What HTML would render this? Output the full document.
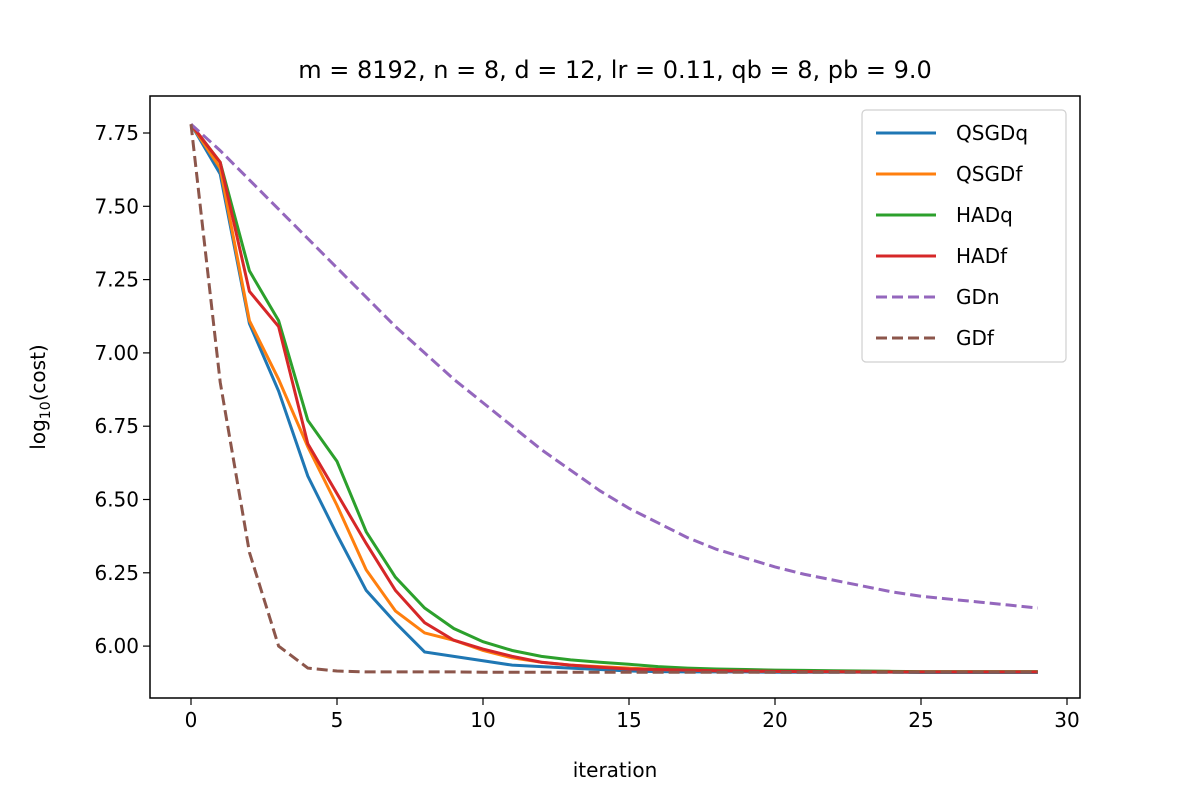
<!DOCTYPE html>
<html><head><meta charset="utf-8"><style>body{margin:0;background:#fff}svg{font-family:"DejaVu Sans","Liberation Sans",sans-serif}</style></head>
<body>
<svg id="c" width="1200" height="800">
<rect x="150" y="96" width="930" height="602" fill="none" stroke="#000" stroke-width="1.5"/>
<text x="615" y="78" font-size="24" text-anchor="middle">m = 8192, n = 8, d = 12, lr = 0.11, qb = 8, pb = 9.0</text>
<text x="615" y="777" font-size="20" text-anchor="middle">iteration</text>
<text transform="translate(45,397) rotate(-90)" font-size="20" text-anchor="middle">log<tspan font-size="14" dy="5">10</tspan><tspan dy="-5">(cost)</tspan></text>
<g id="ticks"></g><g id="series"></g><g id="legend"></g>
</svg>
<script>
const xTicks=[0,5,10,15,20,25,30];
const yTicks=[6.00,6.25,6.50,6.75,7.00,7.25,7.50,7.75];
const names=["QSGDq","QSGDf","HADq","HADf","GDn","GDf"];
const colors=["#1f77b4","#ff7f0e","#2ca02c","#d62728","#9467bd","#8c564b"];
const dashed=[false,false,false,false,true,true];
const qsgdq=[7.78,7.61,7.10,6.87,6.58,6.38,6.19,6.08,5.98,5.965,5.95,5.935,5.93,5.925,5.92,5.915,5.913,5.912,5.912,5.912,5.911,5.911,5.911,5.911,5.911,5.91,5.91,5.91,5.91,5.91];
const qsgdf=[7.78,7.63,7.11,6.91,6.68,6.48,6.26,6.12,6.045,6.02,5.985,5.96,5.945,5.935,5.93,5.925,5.92,5.918,5.916,5.915,5.914,5.913,5.913,5.912,5.912,5.912,5.912,5.912,5.912,5.912];
const hadq=[7.78,7.65,7.28,7.11,6.77,6.63,6.39,6.235,6.13,6.06,6.015,5.985,5.965,5.953,5.945,5.938,5.93,5.925,5.922,5.92,5.918,5.917,5.916,5.915,5.914,5.913,5.913,5.913,5.913,5.913];
const hadf=[7.78,7.65,7.21,7.09,6.69,6.52,6.35,6.19,6.08,6.02,5.99,5.965,5.945,5.935,5.928,5.922,5.92,5.918,5.916,5.915,5.914,5.913,5.913,5.912,5.912,5.912,5.912,5.912,5.912,5.912];
const gdn=[7.78,7.69,7.59,7.49,7.39,7.29,7.19,7.09,7.00,6.91,6.83,6.75,6.67,6.60,6.53,6.47,6.42,6.37,6.33,6.30,6.27,6.245,6.225,6.205,6.185,6.17,6.16,6.15,6.14,6.13];
const gdf=[7.78,6.90,6.32,6.00,5.925,5.915,5.912,5.912,5.912,5.912,5.911,5.911,5.911,5.911,5.911,5.911,5.911,5.911,5.911,5.911,5.911,5.911,5.911,5.911,5.911,5.911,5.911,5.911,5.911,5.911];
const series=[qsgdq,qsgdf,hadq,hadf,gdn,gdf];
const NS="http://www.w3.org/2000/svg";
const X=v=>191+v*29.2, Y=v=>133+(7.75-v)*293.2;
function mk(t,a,p){const e=document.createElementNS(NS,t);for(const k in a)e.setAttribute(k,a[k]);p.appendChild(e);return e;}
const tk=document.getElementById('ticks');
xTicks.forEach(v=>{const l=mk('line',{x1:X(v),x2:X(v),y1:698,y2:705,stroke:'#000','stroke-width':1.2},tk);


const t=mk('text',{x:X(v),y:727,'font-size':20,'text-anchor':'middle'},tk);t.textContent=v;

});
yTicks.forEach(v=>{const l=mk('line',{x1:143,x2:150,y1:Y(v),y2:Y(v),stroke:'#000','stroke-width':1.2},tk);


const t=mk('text',{x:139,y:Y(v)+7,'font-size':20,'text-anchor':'end'},tk);t.textContent=v.toFixed(2);

});
const sg=document.getElementById('series');
series.forEach((s,i)=>{const p=mk('polyline',{points:s.map((v,j)=>X(j)+','+Y(v)).join(' '),fill:'none',stroke:colors[i],'stroke-width':3,'stroke-dasharray':dashed[i]?'11,5':'none'},sg);

});
const lg=document.getElementById('legend');
const box=mk('rect',{x:862,y:110,width:204,height:252,rx:4,fill:'#fff',stroke:'#ccc','stroke-width':1.2,opacity:0.9},lg);


names.forEach((n,i)=>{const y=133+i*41;
const l=mk('line',{x1:876,x2:936,y1:y,y2:y,stroke:colors[i],'stroke-width':3,'stroke-dasharray':dashed[i]?'11,5':'none'},lg);


const t=mk('text',{x:956,y:y+7,'font-size':20},lg);t.textContent=n;

});
</script>
</body></html>
